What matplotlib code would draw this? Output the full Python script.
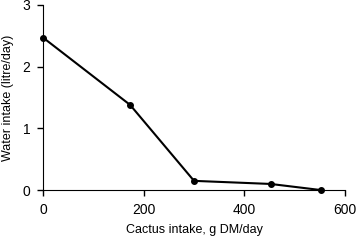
import matplotlib.pyplot as plt

cactus_intake = [0, 173, 300, 452, 553]
water_intake = [2.47, 1.38, 0.15, 0.10, 0.0]
x_ticks = [0, 200, 400, 600]
y_ticks = [0, 1, 2, 3]

plt.rcParams['font.family'] = ['Liberation Sans', 'DejaVu Sans']

fig = plt.figure(figsize=(3.59, 2.45), dpi=100)
ax = fig.add_axes([0.12, 0.224, 0.841, 0.756])
ax.plot(cactus_intake, water_intake, color='black', lw=1.5, marker='o', ms=4, clip_on=False)
ax.set_xlim(0, 600)
ax.set_ylim(0, 3)
ax.set_xticks(x_ticks)
ax.set_yticks(y_ticks)
ax.spines['top'].set_visible(False)
ax.spines['right'].set_visible(False)
ax.tick_params(direction='out', length=4, width=1, labelsize=10, pad=5)
ax.set_xlabel('Cactus intake, g DM/day', fontsize=9, labelpad=5)
ax.set_ylabel('Water intake (litre/day)', fontsize=9, labelpad=6)
fig.savefig('out.png', dpi=100)
